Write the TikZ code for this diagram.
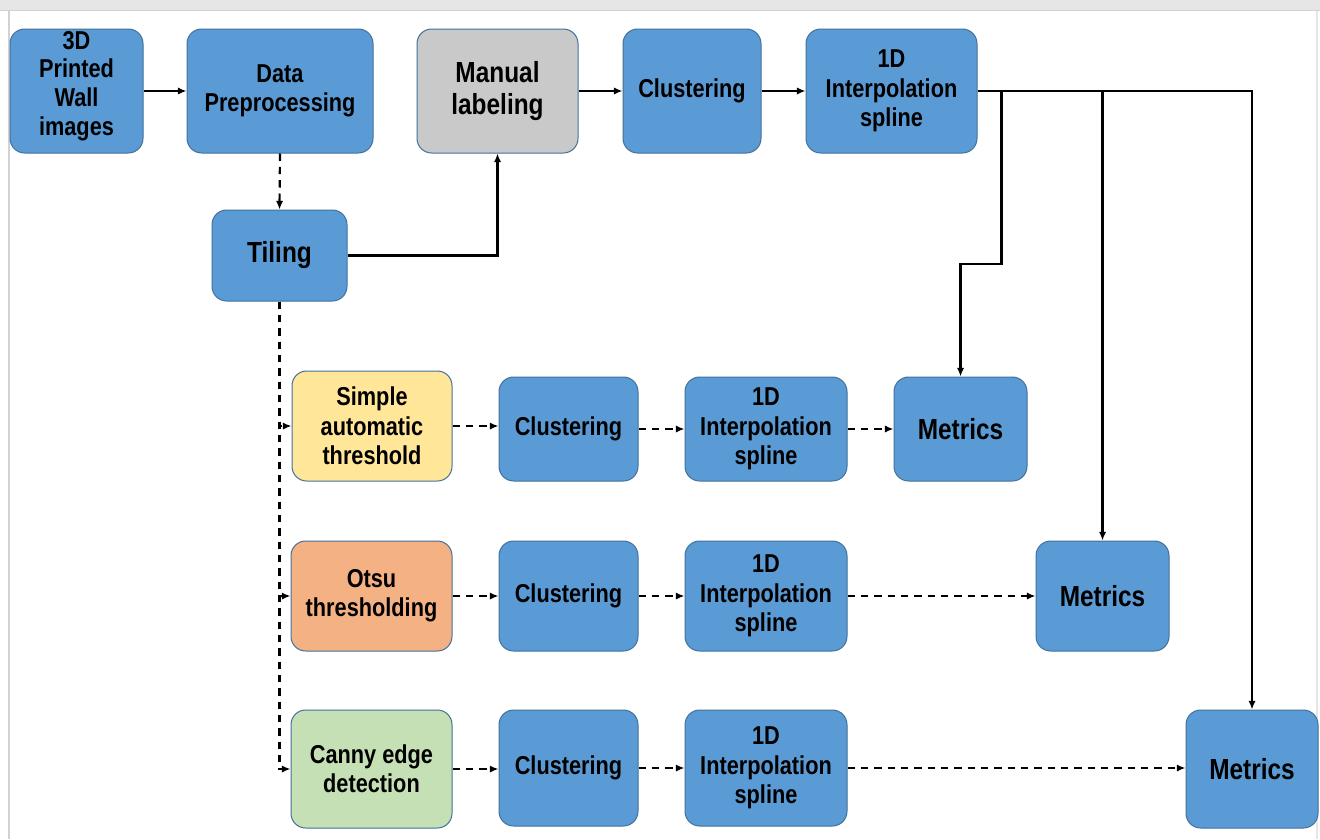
\documentclass[tikz,border=0pt]{standalone}
\usepackage{fontspec}
\setmainfont{Liberation Sans}[FakeStretch=0.84]
\usetikzlibrary{arrows.meta}
\def\pxu{0.75pt}
\definecolor{boxblue}{HTML}{5B9BD5}
\definecolor{boxedge}{HTML}{41719C}
\definecolor{boxgray}{HTML}{C9C9C9}
\definecolor{boxyellow}{HTML}{FFE699}
\definecolor{boxorange}{HTML}{F4B183}
\definecolor{boxgreen}{HTML}{C5E0B4}
\definecolor{bandgray}{HTML}{E6E6E6}
\definecolor{framegray}{HTML}{D2D2D2}
\tikzset{
  boxtext/.style={align=center, text=black, font=\fontsize{19.4}{22}\selectfont\bfseries},
  box/.style={draw=boxedge, line width=0.75pt, fill=boxblue, rounded corners=11pt,
    inner sep=0pt, boxtext},
  bigtext/.style={font=\fontsize{21.8}{24}\selectfont\bfseries},
  solidarrow/.style={line width=1.65pt, -{Latex[length=6.5pt,width=5.5pt]}},
  dasharrow/.style={line width=1.65pt, dash pattern=on 5.5pt off 4.5pt, -{Latex[length=6.5pt,width=5.5pt]}}
}
\begin{document}
\begin{tikzpicture}[x=0.75pt,y=-0.75pt]
% frame
\fill[white] (0,0) rectangle (1320,839);
\useasboundingbox (0,0) rectangle (1320,839);
\fill[bandgray] (0,0) rectangle (1320,10);
\draw[framegray, line width=0.9pt] (0,10.5) -- (1320,10.5);
\draw[framegray, line width=1.5pt] (9,11) -- (9,839);
\draw[bandgray, line width=1pt] (1317,11) -- (1317,839);

% top row
\node[box, minimum width=133*\pxu, minimum height=124*\pxu,
  label={[boxtext, inner sep=0pt, yshift=3.5pt]center:3D\\[-1pt]Printed\\Wall\\images}] (b3d) at (76.5,91) {};
\node[box, minimum width=186*\pxu, minimum height=124*\pxu] (data) at (280,91) {Data\\Preprocessing};
\node[box, bigtext, fill=boxgray, minimum width=161*\pxu, minimum height=124*\pxu] (manual) at (497.5,91) {Manual\\labeling};
\node[box, minimum width=138*\pxu, minimum height=124*\pxu] (clus0) at (692,91) {Clustering};
\node[box, minimum width=171*\pxu, minimum height=124*\pxu] (oned0) at (891.5,91) {1D\\Interpolation\\spline};
\node[box, bigtext, minimum width=135*\pxu, minimum height=91*\pxu] (tiling) at (279.5,255.5) {Tiling};

% row 1
\node[box, fill=boxyellow, minimum width=160*\pxu, minimum height=110*\pxu] (simple) at (372,426) {Simple\\automatic\\threshold};
\node[box, minimum width=139*\pxu, minimum height=104*\pxu] (clus1) at (568.5,429) {Clustering};
\node[box, minimum width=162*\pxu, minimum height=104*\pxu] (oned1) at (766,429) {1D\\Interpolation\\spline};
\node[box, bigtext, minimum width=133*\pxu, minimum height=104*\pxu] (met1) at (960.5,429) {Metrics};

% row 2
\node[box, fill=boxorange, minimum width=161*\pxu, minimum height=110*\pxu] (otsu) at (371.5,596) {Otsu\\thresholding};
\node[box, minimum width=139*\pxu, minimum height=110*\pxu] (clus2) at (568.5,596) {Clustering};
\node[box, minimum width=162*\pxu, minimum height=110*\pxu] (oned2) at (766,596) {1D\\Interpolation\\spline};
\node[box, bigtext, minimum width=133*\pxu, minimum height=110*\pxu] (met2) at (1102.5,596) {Metrics};

% row 3
\node[box, fill=boxgreen, minimum width=161*\pxu, minimum height=118*\pxu] (canny) at (371.5,769) {Canny edge\\detection};
\node[box, minimum width=139*\pxu, minimum height=116*\pxu] (clus3) at (568.5,768) {Clustering};
\node[box, minimum width=162*\pxu, minimum height=116*\pxu] (oned3) at (766,768) {1D\\Interpolation\\spline};
\node[box, bigtext, minimum width=132*\pxu, minimum height=118*\pxu] (met3) at (1252,769) {Metrics};

\coordinate (j1) at (1001.5,264);

% top connectors
\draw[solidarrow] (b3d.east) -- (data.west);
\draw[dasharrow] (data.south) -- (tiling.north);
\draw[solidarrow] (tiling.east) -| (manual.south);
\draw[solidarrow] (manual.east) -- (clus0.west);
\draw[solidarrow] (clus0.east) -- (oned0.west);
\draw[solidarrow] (oned0.east) -| (met3.north);
\draw[solidarrow] (oned0.east) -| (met2.north);
\draw[solidarrow] (oned0.east) -| (j1) -| (met1.north);

% tiling to thresholds
\draw[dasharrow] (tiling.south) |- (simple.west);
\draw[dasharrow] (tiling.south) |- (otsu.west);
\draw[dasharrow] (tiling.south) |- (canny.west);

% rows
\draw[dasharrow] (simple.east) -- (simple.east -| clus1.west);
\draw[dasharrow] (clus1.east) -- (oned1.west);
\draw[dasharrow] (oned1.east) -- (met1.west);
\draw[dasharrow] (otsu.east) -- (otsu.east -| clus2.west);
\draw[dasharrow] (clus2.east) -- (oned2.west);
\draw[dasharrow] (oned2.east) -- (met2.west);
\draw[dasharrow] (canny.east) -- (canny.east -| clus3.west);
\draw[dasharrow] (clus3.east) -- (oned3.west);
\draw[dasharrow] (oned3.east) -- (oned3.east -| met3.west);
\end{tikzpicture}
\end{document}
